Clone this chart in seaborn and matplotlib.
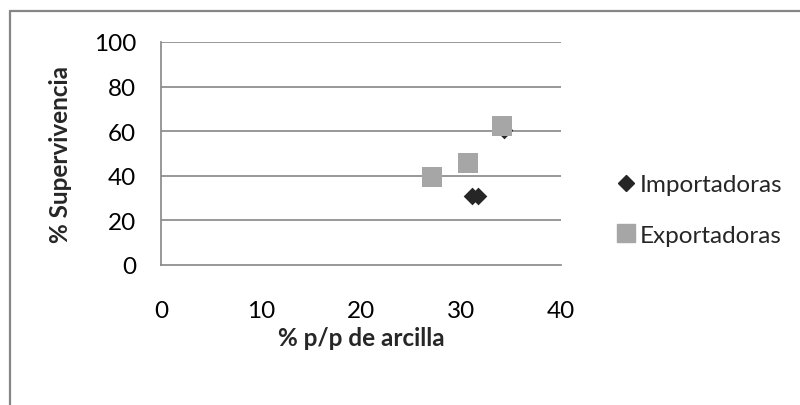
import matplotlib
matplotlib.use("Agg")
import matplotlib.pyplot as plt
import seaborn as sns
import pandas as pd
from matplotlib.lines import Line2D

# Data
imp_x = [31.1, 31.7, 34.3]
imp_y = [30.8, 30.8, 60.5]
exp_x = [27.1, 30.7, 34.1]
exp_y = [39.3, 45.6, 62.2]
series = ["Importadoras", "Exportadoras"]
x_ticks = [0, 10, 20, 30, 40]
y_ticks = [0, 20, 40, 60, 80, 100]

df = pd.DataFrame({
    "x": imp_x + exp_x,
    "y": imp_y + exp_y,
    "serie": [series[0]] * len(imp_x) + [series[1]] * len(exp_x),
})

sns.set_theme(style="white")
plt.rcParams["font.family"] = ["Lato", "DejaVu Sans"]

GRID = "#868686"
DARK = "#262626"
LIGHT = "#A6A6A6"
FS = 17.5

fig = plt.figure(figsize=(8, 4.06), dpi=100)
ax = fig.add_axes([161 / 800, 1 - 266 / 406, 400 / 800, 223 / 406])

sns.scatterplot(data=df[df.serie == series[0]], x="x", y="y", marker="D",
                color=DARK, s=9 ** 2, linewidth=0, ax=ax, legend=False, zorder=3)
sns.scatterplot(data=df[df.serie == series[1]], x="x", y="y", marker="s",
                color=LIGHT, s=13.7 ** 2, linewidth=0, ax=ax, legend=False, zorder=4)

ax.set_xlim(0, 40)
ax.set_ylim(0, 100)
ax.set_xticks(x_ticks)
ax.set_yticks(y_ticks)
ax.set_xticklabels([str(v) for v in x_ticks])
ax.set_yticklabels([str(v) for v in y_ticks])
ax.tick_params(axis="both", length=0, labelsize=FS, colors="black")
ax.tick_params(axis="y", pad=18)
ax.tick_params(axis="x", pad=25)

for yv in y_ticks[1:]:
    ax.axhline(yv, color=GRID, lw=1.2, zorder=1)
for side in ["top", "right"]:
    ax.spines[side].set_visible(False)
for side in ["left", "bottom"]:
    ax.spines[side].set_color(GRID)
    ax.spines[side].set_linewidth(1.2)

ax.set_xlabel("% p/p de arcilla", fontsize=FS, fontweight="bold", va="center")
ax.set_ylabel("% Supervivencia", fontsize=FS, fontweight="bold", va="center", ha="center")
ax.xaxis.set_label_coords(0.5, (266 - 339) / 223)
ax.yaxis.set_label_coords((60 - 161) / 400, 0.502)

handles = [
    Line2D([], [], marker="D", color=DARK, linestyle="none", markersize=8),
    Line2D([], [], marker="s", color=LIGHT, linestyle="none", markersize=13),
]
leg = fig.legend(handles, series, loc="center left",
                 bbox_to_anchor=(605 / 800, 1 - 211 / 406), frameon=False,
                 fontsize=FS, handlelength=0.7, handletextpad=0.25,
                 labelspacing=1.2, borderpad=0)

# outer chart frame (left and top edges visible, rest runs off the image)
fig.add_artist(Line2D([10 / 800, 10 / 800], [0, 1 - 12 / 406],
                      transform=fig.transFigure, color=GRID, lw=1.6))
fig.add_artist(Line2D([10 / 800, 1], [1 - 12 / 406, 1 - 12 / 406],
                      transform=fig.transFigure, color=GRID, lw=1.6))

fig.savefig("out.png", dpi=100)
